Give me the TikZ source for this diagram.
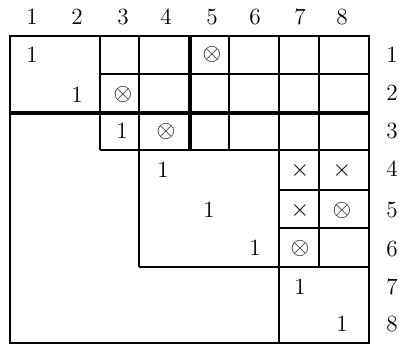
\documentclass[tikz,border=0pt]{standalone}
\begin{document}
\begin{tikzpicture}[x=0.5pt,y=-0.5pt,
  thinline/.style={line width=1pt},
  thickline/.style={line width=1.6pt},
  lbl/.style={inner sep=0pt,font=\fontsize{11.6}{14}\selectfont},
  ent/.style={inner sep=0pt,font=\fontsize{11.6}{14}\selectfont}]
\useasboundingbox (0,0) rectangle (399,347);
% grid lines
\draw[thinline] (10,36) rectangle (369,343);
\draw[thinline] (100,36) -- (100,150);
\draw[thinline] (100,74) -- (369,74);
\draw[thickline] (10,113) -- (369,113);
\draw[thinline] (100,150) -- (369,150);
\draw[thinline] (139,36) -- (139,267);
\draw[thickline] (190,36) -- (190,150);
\draw[thinline] (229,36) -- (229,150);
\draw[thinline] (279,36) -- (279,343);
\draw[thinline] (319,36) -- (319,267);
\draw[thinline] (279,190) -- (369,190);
\draw[thinline] (279,228) -- (369,228);
\draw[thinline] (139,267) -- (369,267);
% column labels
\node[lbl] (c1) at (32,17) {1};
\node[lbl] (c2) at (77,17) {2};
\node[lbl] (c3) at (123,17) {3};
\node[lbl] (c4) at (166,17) {4};
\node[lbl] (c5) at (212,17) {5};
\node[lbl] (c6) at (255,17) {6};
\node[lbl] (c7) at (300,17) {7};
\node[lbl] (c8) at (342,17) {8};
% row labels
\node[lbl] (r1) at (392,55) {1};
\node[lbl] (r2) at (392,93) {2};
\node[lbl] (r3) at (392,131) {3};
\node[lbl] (r4) at (392,169) {4};
\node[lbl] (r5) at (392,210) {5};
\node[lbl] (r6) at (392,249) {6};
\node[lbl] (r7) at (392,287) {7};
\node[lbl] (r8) at (392,324) {8};
% entries
\node[ent] (e11) at (32,55) {1};
\node[ent] (e22) at (77,95) {1};
\node[ent] (e23) at (123,95) {$\otimes$};
\node[ent] (e15) at (212,55) {$\otimes$};
\node[ent] (e33) at (122,131) {1};
\node[ent] (e34) at (166,131) {$\otimes$};
\node[ent] (e44) at (163,170) {1};
\node[ent] (e47) at (300,170) {$\times$};
\node[ent] (e48) at (342,170) {$\times$};
\node[ent] (e55) at (209,210) {1};
\node[ent] (e57) at (300,210) {$\times$};
\node[ent] (e58) at (342,210) {$\otimes$};
\node[ent] (e66) at (255,248) {1};
\node[ent] (e67) at (300,248) {$\otimes$};
\node[ent] (e77) at (300,287) {1};
\node[ent] (e88) at (342,324) {1};
\end{tikzpicture}
\end{document}
